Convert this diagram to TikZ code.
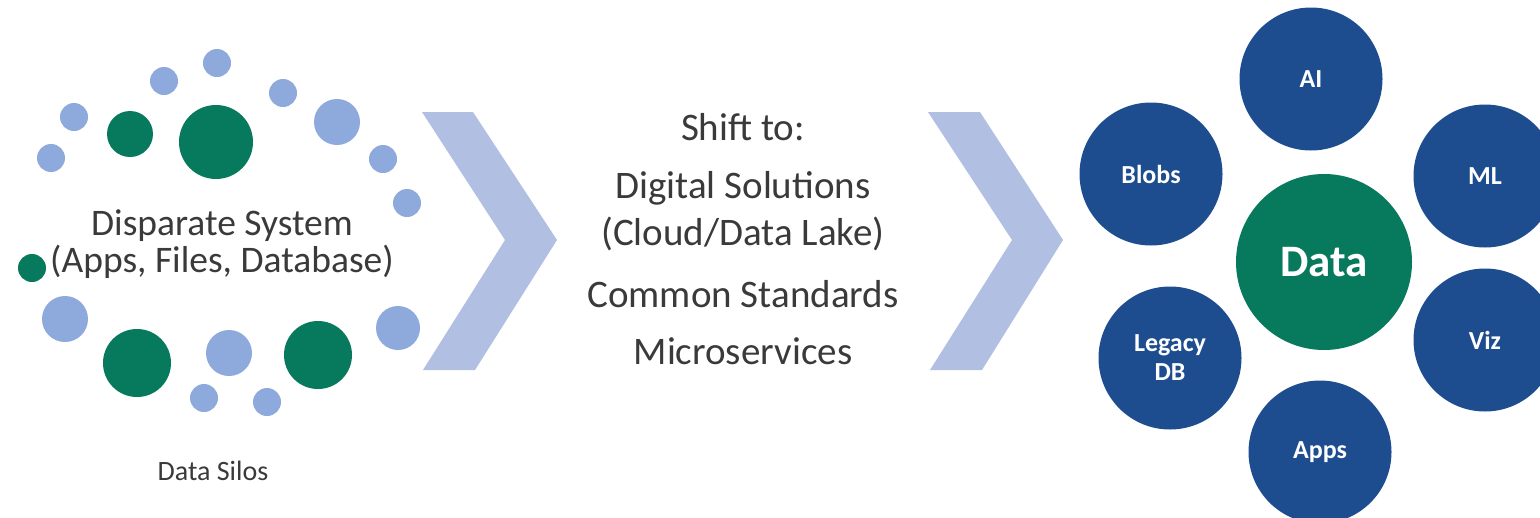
\documentclass[tikz,border=0pt]{standalone}
\usepackage{fontspec}
\setmainfont{Carlito}
\definecolor{dkblue}{HTML}{1D4D8F}
\definecolor{dgreen}{HTML}{07795D}
\definecolor{ltblue}{HTML}{8EA9DB}
\definecolor{chevc}{HTML}{B0BFE2}
\definecolor{txtgrey}{HTML}{3A3A3A}
\tikzset{
  chevron/.style={fill=chevc},
  dotl/.style={fill=ltblue},
  dotg/.style={fill=dgreen},
  lefttext/.style={text=txtgrey, font=\fontsize{37.5}{40}\selectfont, inner sep=0pt, anchor=base},
  midtext/.style={text=txtgrey, font=\fontsize{39}{42}\selectfont, inner sep=0pt, anchor=base},
  silostext/.style={text=txtgrey, font=\fontsize{28}{30}\selectfont, inner sep=0pt, anchor=base},
  bluec/.style={circle, fill=dkblue, text=white, minimum size=143pt, inner sep=0pt,
     font=\fontsize{26}{29}\selectfont\bfseries, align=center},
  datac/.style={circle, fill=dgreen, text=white, minimum size=176pt, inner sep=0pt,
     font=\fontsize{45}{48}\selectfont\bfseries}
}
\begin{document}
\begin{tikzpicture}[x=1pt,y=-1pt]
\useasboundingbox (0,0) rectangle (1540,517);
\clip (0,0) rectangle (1540,517);
\fill[white] (0,0) rectangle (1540,517);

% chevrons
\fill[chevron] (422,112) -- (473,112) -- (557,240) -- (475,370) -- (423,370) -- (505,240) -- cycle;
\fill[chevron] (928,112) -- (980,112) -- (1063,240) -- (982,370) -- (930,370) -- (1012,240) -- cycle;

% left cluster: light blue dots
\foreach \x/\y/\r in {217/63/14, 164/81/14, 283/93/14, 337/122/23, 74/117/14, 51/158/14,
  383/159/14, 407/203/14, 65/319/23, 398/328/22, 229/353/23, 204/398/14, 267/402/14}
  \fill[dotl] (\x,\y) circle[radius=\r];
% left cluster: green dots
\foreach \x/\y/\r in {130/134/23, 216/142/37, 32/268/14, 137/363/34, 318/355/34}
  \fill[dotg] (\x,\y) circle[radius=\r];

\node[lefttext] (ds1) at (222,235) {Disparate System};
\node[lefttext] (ds2) at (222,272) {(Apps, Files, Database)};
\node[silostext] (silos) at (213,480) {Data Silos};

% middle text
\node[midtext] (shift) at (743,140) {Shift to:};
\node[midtext] (digi) at (743,198) {Digital Solutions};
\node[midtext] (cloud) at (743,245) {(Cloud/Data Lake)};
\node[midtext] (common) at (743,307) {Common Standards};
\node[midtext] (micro) at (743,364) {Microservices};

% right cluster
\node[bluec] (ai) at (1311,79) {AI};
\node[bluec] (blobs) at (1151,174) {Blobs};
\node[bluec] (ml) at (1485,176) {ML};
\node[bluec] (legacy) at (1170,358) {Legacy\\DB};
\node[bluec] (viz) at (1485,340) {Viz};
\node[bluec] (apps) at (1320,452) {Apps};
\node[datac] (data) at (1324,262) {Data};
\end{tikzpicture}
\end{document}
